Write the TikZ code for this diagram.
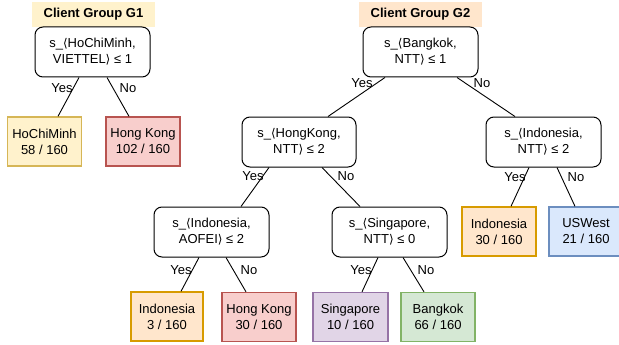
\documentclass[tikz,border=0pt]{standalone}
\usepackage{fontspec}
\setmainfont{Liberation Sans}
\newfontfamily\djv{DejaVu Sans}
\newcommand{\lang}{{\djv\fontsize{12}{16}\selectfont ⟨}}
\newcommand{\rang}{{\djv\fontsize{12}{16}\selectfont ⟩}}
\definecolor{yfill}{HTML}{FFF2CC}\definecolor{ydraw}{HTML}{D6B656}
\definecolor{rfill}{HTML}{F8CECC}\definecolor{rdraw}{HTML}{B85450}
\definecolor{ofill}{HTML}{FFE6CC}\definecolor{odraw}{HTML}{D79B00}
\definecolor{pfill}{HTML}{E1D5E7}\definecolor{pdraw}{HTML}{9673A6}
\definecolor{gfill}{HTML}{D5E8D4}\definecolor{gdraw}{HTML}{82B366}
\definecolor{bfill}{HTML}{DAE8FC}\definecolor{bdraw}{HTML}{6C8EBF}
\tikzset{
  txt/.style={font=\fontsize{13}{16}\selectfont, align=center, inner sep=0pt},
  grouplabel/.style={txt, font=\fontsize{13}{16}\selectfont\bfseries, minimum width=123pt, minimum height=25pt},
  decision/.style={txt, draw=black, line width=1pt, rounded corners=8pt, fill=white, minimum width=115pt, minimum height=50pt},
  leaf/.style={txt, line width=1.3pt, minimum width=74pt, minimum height=49pt},
  edge/.style={draw=black, line width=0.9pt},
  elabel/.style={font=\fontsize{13}{15}\selectfont, inner sep=0pt}
}
\begin{document}
\begin{tikzpicture}[x=1pt,y=-1pt]
\useasboundingbox (0,0) rectangle (619,345);
\clip (0,0) rectangle (619,345);
% Group G1
\node[grouplabel, fill=yfill] (g1) at (93.5,14.5) {Client Group G1};
\node[decision] (r1) at (92.5,52) {s\_\lang HoChiMinh,\\VIETTEL\rang\ ≤ 1};
\node[leaf, fill=yfill, draw=ydraw] (lhcm) at (44.5,141.5) {HoChiMinh\\58 / 160};
\node[leaf, fill=rfill, draw=rdraw] (lhk1) at (143,141.5) {Hong Kong\\102 / 160};
% Group G2
\node[grouplabel, fill=ofill] (g2) at (420.5,14.5) {Client Group G2};
\node[decision] (r2) at (420.5,52) {s\_\lang Bangkok,\\NTT\rang\ ≤ 1};
\node[decision, minimum width=114pt] (nhk) at (299,142) {s\_\lang HongKong,\\NTT\rang\ ≤ 2};
\node[decision] (nin) at (543.5,142) {s\_\lang Indonesia,\\NTT\rang\ ≤ 2};
\node[decision] (nao) at (211.5,232) {s\_\lang Indonesia,\\AOFEI\rang\ ≤ 2};
\node[decision] (nsg) at (389.5,232) {s\_\lang Singapore,\\NTT\rang\ ≤ 0};
\node[leaf, fill=ofill, draw=odraw] (lin30) at (499,231.5) {Indonesia\\30 / 160};
\node[leaf, fill=bfill, draw=bdraw] (lus) at (586,231.5) {USWest\\21 / 160};
\node[leaf, fill=ofill, draw=odraw, minimum width=72pt] (lin3) at (167,316.5) {Indonesia\\3 / 160};
\node[leaf, fill=rfill, draw=rdraw] (lhk30) at (259,317) {Hong Kong\\30 / 160};
\node[leaf, fill=pfill, draw=pdraw, minimum width=75pt] (lsg) at (350.5,317) {Singapore\\10 / 160};
\node[leaf, fill=gfill, draw=gdraw] (lbk) at (438,317) {Bangkok\\66 / 160};
% edges
\draw[edge] ([xshift=-13.5pt]r1.south) -- ([xshift=13.5pt]lhcm.north);
\draw[edge] ([xshift=14.5pt]r1.south) -- ([xshift=-14pt]lhk1.north);
\draw[edge] ([xshift=-35.5pt]r2.south) -- ([xshift=29pt]nhk.north);
\draw[edge] ([xshift=36.5pt]r2.south) -- ([xshift=-28.5pt]nin.north);
\draw[edge] ([xshift=-30pt]nhk.south) -- ([xshift=29.5pt]nao.north);
\draw[edge] ([xshift=23pt]nhk.south) -- ([xshift=-29.5pt]nsg.north);
\draw[edge] ([xshift=-14.5pt]nin.south) -- ([xshift=12pt]lin30.north);
\draw[edge] ([xshift=13.5pt]nin.south) -- ([xshift=-11pt]lus.north);
\draw[edge] ([xshift=-12.5pt]nao.south) -- ([xshift=14pt]lin3.north);
\draw[edge] ([xshift=14.5pt]nao.south) -- ([xshift=-13pt]lhk30.north);
\draw[edge] ([xshift=-11.5pt]nsg.south) -- ([xshift=11.5pt]lsg.north);
\draw[edge] ([xshift=13.5pt]nsg.south) -- ([xshift=-14pt]lbk.north);
% edge labels
\node[elabel] (y1) at (62,88) {Yes};
\node[elabel] (n1) at (128,88) {No};
\node[elabel] (y2) at (362,83) {Yes};
\node[elabel] (n2) at (482,83) {No};
\node[elabel] (y3) at (253,176) {Yes};
\node[elabel] (n3) at (346,176) {No};
\node[elabel] (y4) at (515,177) {Yes};
\node[elabel] (n4) at (576,177) {No};
\node[elabel] (y5) at (181,270) {Yes};
\node[elabel] (n5) at (249,270) {No};
\node[elabel] (y6) at (361,270) {Yes};
\node[elabel] (n6) at (426,270) {No};
\end{tikzpicture}
\end{document}
